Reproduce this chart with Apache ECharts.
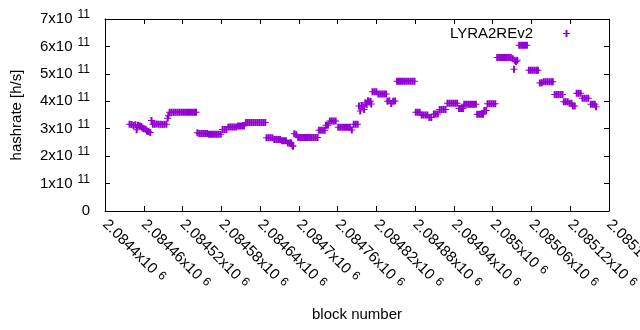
<!DOCTYPE html>
<html>
<head>
<meta charset="utf-8">
<script src="https://cdn.jsdelivr.net/npm/echarts@6/dist/echarts.min.js"></script>
<style>
  html, body { margin: 0; padding: 0; background: #fff; }
  #chart { width: 640px; height: 330px; }
</style>
</head>
<body>
<div id="chart"></div>
<script>
// block heights
const blocks = [
  2084438, 2084441, 2084444, 2084447, 2084449, 2084451, 2084454, 2084456,
  2084458, 2084460, 2084463, 2084465, 2084467, 2084470, 2084472,
  2084474, 2084477, 2084480, 2084483, 2084486, 2084489, 2084492, 2084495, 2084497, 2084498,
  2084500, 2084503, 2084506, 2084509, 2084512, 2084515, 2084518, 2084521, 2084524, 2084527,
  2084530, 2084533, 2084536, 2084539, 2084541,
  2084543, 2084546, 2084549, 2084552, 2084555, 2084558,
  2084561, 2084564, 2084567, 2084570, 2084573, 2084576, 2084579,
  2084582, 2084585, 2084588,
  2084591, 2084594, 2084597, 2084600, 2084603,
  2084606, 2084609, 2084612, 2084615,
  2084618, 2084621, 2084624, 2084627, 2084630, 2084633, 2084636, 2084639, 2084642, 2084645, 2084648,
  2084650, 2084653, 2084656, 2084659,
  2084662, 2084665, 2084668, 2084671,
  2084674, 2084677, 2084680,
  2084683, 2084686, 2084688, 2084690, 2084691,
  2084693, 2084696,
  2084699, 2084702, 2084705, 2084708, 2084711, 2084714, 2084717, 2084720, 2084723, 2084726, 2084729,
  2084731, 2084734, 2084737, 2084740,
  2084742, 2084745,
  2084748, 2084751, 2084754, 2084757,
  2084761, 2084764, 2084767, 2084770, 2084773, 2084776, 2084779, 2084782,
  2084785, 2084788, 2084791,
  2084793, 2084795, 2084797, 2084799, 2084801,
  2084803, 2084805, 2084807, 2084809, 2084811, 2084812,
  2084814, 2084817, 2084820,
  2084823, 2084826, 2084829, 2084832, 2084835,
  2084837, 2084840, 2084843, 2084846, 2084849,
  2084852, 2084855, 2084858, 2084861, 2084864, 2084867, 2084870, 2084873, 2084876, 2084879,
  2084881, 2084884, 2084887,
  2084890, 2084893, 2084896, 2084899,
  2084902, 2084905,
  2084909, 2084912, 2084915,
  2084918, 2084921, 2084924, 2084927,
  2084930, 2084933, 2084936, 2084939, 2084942, 2084945,
  2084948, 2084951, 2084954,
  2084956, 2084959, 2084962, 2084965, 2084968, 2084971, 2084974,
  2084976, 2084979, 2084982, 2084985,
  2084987, 2084990,
  2084992, 2084995, 2084998, 2085001, 2085004,
  2085007, 2085010, 2085013, 2085016, 2085019, 2085022, 2085025, 2085028,
  2085031, 2085033, 2085034, 2085036, 2085038,
  2085041, 2085044, 2085047, 2085050, 2085053,
  2085056, 2085059, 2085062, 2085065, 2085068, 2085070,
  2085073, 2085076,
  2085079, 2085082, 2085085, 2085088, 2085091, 2085093,
  2085096, 2085099, 2085102, 2085105, 2085108,
  2085110, 2085113, 2085116,
  2085119, 2085122,
  2085124, 2085127,
  2085130, 2085133, 2085136,
  2085139, 2085142, 2085145, 2085148,
  2085152, 2085155, 2085158, 2085160
];

// hashrate, in units of 1e11 h/s
const hashrate = [
  3.16, 3.15, 3.12, 3.14, 2.96, 3.13, 3.10, 3.08,
  3.03, 3.00, 2.98, 2.92, 2.90, 2.86, 3.30,
  3.16, 3.16, 3.17, 3.16, 3.16, 3.15, 3.16, 3.16, 3.38, 3.47,
  3.60, 3.60, 3.60, 3.60, 3.60, 3.60, 3.60, 3.60, 3.60, 3.60,
  3.60, 3.60, 3.60, 3.60, 3.60,
  2.85, 2.83, 2.83, 2.83, 2.83, 2.83,
  2.80, 2.80, 2.80, 2.80, 2.80, 2.80, 2.80,
  2.97, 2.97, 2.97,
  3.06, 3.06, 3.06, 3.06, 3.06,
  3.10, 3.10, 3.10, 3.10,
  3.23, 3.23, 3.23, 3.23, 3.23, 3.23, 3.23, 3.23, 3.23, 3.23, 3.23,
  2.67, 2.67, 2.67, 2.67,
  2.61, 2.61, 2.61, 2.61,
  2.56, 2.56, 2.56,
  2.48, 2.48, 2.48, 2.40, 2.36,
  2.82, 2.78,
  2.68, 2.68, 2.68, 2.68, 2.68, 2.68, 2.68, 2.68, 2.68, 2.68, 2.68,
  2.94, 2.94, 2.94, 2.94,
  3.13, 3.13,
  3.28, 3.28, 3.28, 3.28,
  3.05, 3.05, 3.05, 3.05, 3.05, 3.05, 3.05, 2.95,
  3.16, 3.16, 3.16,
  3.83, 3.65, 3.85, 3.80, 3.70,
  3.95, 3.88, 4.02, 3.97, 4.00, 3.90,
  4.35, 4.35, 4.35,
  4.27, 4.27, 4.27, 4.27, 4.27,
  4.00, 4.02, 3.92, 4.00, 4.01,
  4.73, 4.73, 4.73, 4.73, 4.73, 4.73, 4.73, 4.73, 4.73, 4.73,
  3.60, 3.60, 3.60,
  3.50, 3.50, 3.50, 3.50,
  3.41, 3.41,
  3.54, 3.54, 3.54,
  3.70, 3.70, 3.70, 3.70,
  3.93, 3.93, 3.93, 3.93, 3.93, 3.93,
  3.74, 3.74, 3.74,
  3.89, 3.89, 3.89, 3.89, 3.89, 3.89, 3.89,
  3.53, 3.53, 3.53, 3.53,
  3.66, 3.66,
  3.91, 3.91, 3.91, 3.91, 3.91,
  5.60, 5.60, 5.60, 5.60, 5.60, 5.60, 5.60, 5.60,
  5.55, 5.17, 5.50, 5.45, 5.50,
  6.04, 6.04, 6.04, 6.04, 6.04,
  5.13, 5.13, 5.13, 5.13, 5.13, 5.13,
  4.67, 4.68,
  4.71, 4.71, 4.71, 4.71, 4.71, 4.71,
  4.25, 4.25, 4.25, 4.25, 4.25,
  3.98, 3.98, 3.98,
  3.93, 3.93,
  3.83, 3.83,
  4.29, 4.29, 4.29,
  4.11, 4.11, 4.11, 4.11,
  3.89, 3.89, 3.89, 3.80
];

const xMin = 2084400;
const xMax = 2085180;
const xStep = 60;
const yMax = 7e11;
const yStep = 1e11;

const FONT = 'Liberation Sans';
const PLUS = 'path://M0,3h7v1h-7zM2.5,0h2v7h-2z';

const labelRich = (supPad) => ({
  a: { fontFamily: FONT, fontSize: 15, color: '#000' },
  b: { fontFamily: FONT, fontSize: 12, color: '#000', padding: [0, 0, supPad, 5] }
});

const frame = { show: true, onZero: false, lineStyle: { color: '#000', width: 1 } };
const ticks = { show: true, inside: true, length: 5, lineStyle: { color: '#000', width: 1 } };

const chart = echarts.init(document.getElementById('chart'));
chart.setOption({
  animation: false,
  grid: { left: 105, right: 31, top: 19, bottom: 119, outerBoundsMode: 'none' },
  legend: {
    data: ['LYRA2REv2'],
    right: 65,
    top: 21,
    align: 'right',
    icon: PLUS,
    itemWidth: 7,
    itemHeight: 7,
    formatter: name => `{n|${name}}{g| }`,
    textStyle: {
      fontFamily: FONT,
      fontSize: 15,
      color: '#000',
      rich: {
        n: { fontFamily: FONT, fontSize: 15, color: '#000' },
        g: { fontFamily: FONT, fontSize: 15, width: 25 }
      }
    }
  },
  xAxis: [
    {
      type: 'value',
      min: xMin,
      max: xMax,
      interval: xStep,
      position: 'bottom',
      axisLine: frame,
      axisTick: ticks,
      splitLine: { show: false },
      axisLabel: {
        rotate: -45,
        margin: 11,
        hideOverlap: false,
        showMinLabel: true,
        showMaxLabel: true,
        fontFamily: FONT,
        fontSize: 15,
        color: '#000',
        formatter: v => `{a|${v / 1e6}x10}{b|6}`,
        rich: labelRich(4)
      },
      name: 'block number',
      nameLocation: 'middle',
      nameGap: 96,
      nameTextStyle: { fontFamily: FONT, fontSize: 15, color: '#000' }
    },
    {
      type: 'value',
      min: xMin,
      max: xMax,
      interval: xStep,
      position: 'top',
      axisLine: frame,
      axisTick: ticks,
      axisLabel: { show: false },
      splitLine: { show: false }
    }
  ],
  yAxis: [
    {
      type: 'value',
      min: 0,
      max: yMax,
      interval: yStep,
      position: 'left',
      axisLine: frame,
      axisTick: ticks,
      splitLine: { show: false },
      axisLabel: {
        margin: 15,
        fontFamily: FONT,
        fontSize: 15,
        color: '#000',
        formatter: v => (v === 0 ? '0' : `{a|${Math.round(v / 1e11)}x10}{b|11}`),
        rich: labelRich(8)
      },
      name: 'hashrate [h/s]',
      nameLocation: 'middle',
      nameGap: 81,
      nameTextStyle: { fontFamily: FONT, fontSize: 15, color: '#000' }
    },
    {
      type: 'value',
      min: 0,
      max: yMax,
      interval: yStep,
      position: 'right',
      axisLine: frame,
      axisTick: ticks,
      axisLabel: { show: false },
      splitLine: { show: false }
    }
  ],
  series: [
    {
      name: 'LYRA2REv2',
      type: 'scatter',
      silent: true,
      symbol: PLUS,
      symbolSize: 7,
      itemStyle: { color: '#9400d3', opacity: 1 },
      data: blocks.map((b, i) => [b, hashrate[i] * 1e11])
    }
  ]
});
</script>
</body>
</html>
